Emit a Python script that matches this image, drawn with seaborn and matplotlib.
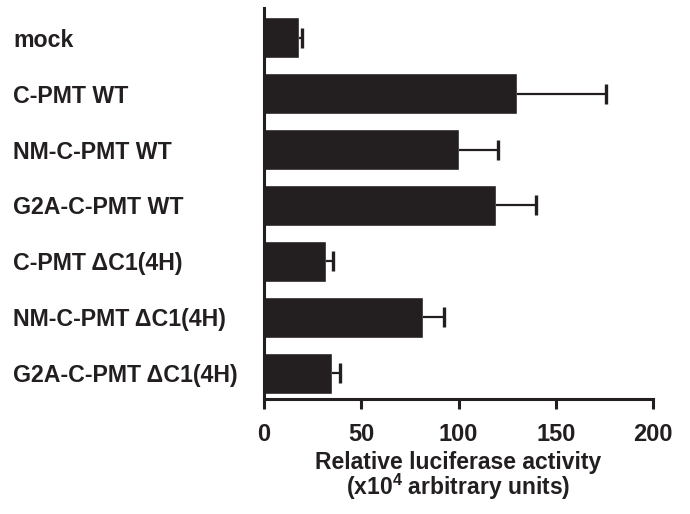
import seaborn as sns
import matplotlib.pyplot as plt
import pandas as pd
import numpy as np

constructs = ["mock", "C-PMT WT", "NM-C-PMT WT", "G2A-C-PMT WT",
              "C-PMT \u0394C1(4H)", "NM-C-PMT \u0394C1(4H)", "G2A-C-PMT \u0394C1(4H)"]
activity = [18, 130, 100, 119.5, 32, 82, 35]
sd = [1.5, 46, 20.5, 20.5, 3.5, 10.5, 4]

df = pd.DataFrame({"construct": constructs, "activity": activity})

sns.set_style("ticks")
plt.rcParams["font.family"] = ["Liberation Sans", "DejaVu Sans"]
plt.rcParams["font.weight"] = "bold"
plt.rcParams["mathtext.fontset"] = "custom"
plt.rcParams["mathtext.bf"] = "Liberation Sans:bold"
plt.rcParams["mathtext.rm"] = "Liberation Sans:bold"

ink = "#231f20"
fig = plt.figure(figsize=(6.9, 5.14), dpi=100)
ax = fig.add_axes([264 / 690, 1 - 399 / 514, (653 - 264) / 690, (399 - 8) / 514])

sns.barplot(data=df, y="construct", x="activity", orient="h", color=ink,
            width=0.73, errorbar=None, saturation=1, ax=ax)
ypos = np.arange(len(constructs))
# one-sided error bars: line from bar end, cap only at the top end
ax.errorbar(activity, ypos, xerr=[np.zeros(len(sd)), sd],
            fmt="none", ecolor=ink, elinewidth=1.6, capsize=0)
ax.plot(np.add(activity, sd), ypos, ls="none", marker="|", ms=15, mew=2.4, color=ink)

ax.set_xlim(0, 200)
ax.set_ylim(6.46, -0.53)
ax.set_xticks([0, 50, 100, 150, 200])
sns.despine(ax=ax)
for s in ["left", "bottom"]:
    ax.spines[s].set_linewidth(2.2)
    ax.spines[s].set_color(ink)
ax.tick_params(axis="x", length=7, width=2.2, color=ink, labelsize=17,
               labelcolor=ink, pad=10)
ax.tick_params(axis="y", length=0, labelsize=16.7, labelcolor=ink, pad=180.7)
for lbl in ax.get_yticklabels():
    lbl.set_horizontalalignment("left")
    lbl.set_fontweight("bold")
for lbl in ax.get_xticklabels():
    lbl.set_fontweight("bold")

ax.set_ylabel("")
ax.set_xlabel("Relative luciferase activity\n(x10$^{\\mathbf{4}}$ arbitrary units)",
              fontsize=16.5, fontweight="bold", color=ink, linespacing=0.88, labelpad=4)

plt.savefig("out.png", dpi=100)
